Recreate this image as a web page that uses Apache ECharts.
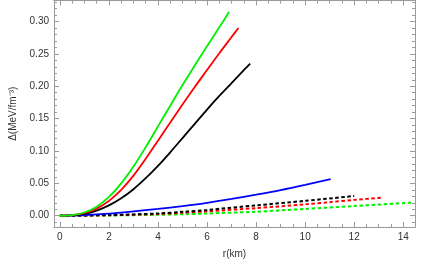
<!DOCTYPE html>
<html><head><meta charset="utf-8">
<script src="https://cdn.jsdelivr.net/npm/echarts@6/dist/echarts.min.js"></script>
<style>html,body{margin:0;padding:0;background:#fff}#c{width:421px;height:264px}</style>
</head><body><div id="c"></div>
<script>
// ---- data ----
const xTicks = [0, 2, 4, 6, 8, 10, 12, 14];
const yTicks = [0.00, 0.05, 0.10, 0.15, 0.20, 0.25, 0.30];

const rGreen = [0, 0.5, 1, 1.5, 2, 2.5, 3, 3.5, 4, 4.5, 5, 5.5, 6, 6.5, 6.9];
const vGreen = [0, 0.001, 0.005, 0.014, 0.029, 0.050, 0.076, 0.106, 0.138, 0.170, 0.202, 0.232, 0.262, 0.291, 0.315];

const rRed = [0, 0.5, 1, 1.5, 2, 2.5, 3, 3.5, 4, 4.5, 5, 5.5, 6, 6.5, 7, 7.28];
const vRed = [0, 0.001, 0.004, 0.011, 0.023, 0.040, 0.062, 0.088, 0.116, 0.144, 0.172, 0.199, 0.225, 0.251, 0.276, 0.290];

const rBlack = [0, 0.5, 1, 1.5, 2, 2.5, 3, 3.5, 4, 4.5, 5, 5.5, 6, 6.5, 7, 7.5, 7.76];
const vBlack = [0, 0.001, 0.003, 0.008, 0.016, 0.027, 0.041, 0.058, 0.077, 0.098, 0.120, 0.142, 0.164, 0.185, 0.205, 0.225, 0.235];

const rBlue = [0, 1, 2, 3, 4, 5, 6, 7, 8, 9, 10, 11.04];
const vBlue = [0, 0.0010, 0.0033, 0.0067, 0.0105, 0.0150, 0.0200, 0.0260, 0.0325, 0.0395, 0.0475, 0.0565];

const rBlackD = [0, 2, 4, 5, 6, 8, 10, 12];
const vBlackD = [0, 0.0010, 0.0035, 0.0060, 0.0090, 0.0160, 0.0230, 0.0305];

const rRedD = [0, 2, 4, 5, 6, 8, 10, 11, 12, 13.13];
const vRedD = [0, 0.0008, 0.0027, 0.0047, 0.0068, 0.0118, 0.0175, 0.0210, 0.0245, 0.0280];

const rGreenD = [0, 2, 4, 5, 6, 8, 10, 12, 14.36];
const vGreenD = [0, 0.0004, 0.0015, 0.0022, 0.0035, 0.0062, 0.0105, 0.0150, 0.0203];

// ---- build ----
const zip = (a, b) => a.map((x, i) => [x, b[i]]);
const minorX = [];
for (let i = 0; i <= 29; i++) { const v = i * 0.5; if (v % 2 !== 0) minorX.push(v); }
const minorY = [];
for (let i = -1; i <= 33; i++) { const v = +(i * 0.01).toFixed(2); if (Math.round(v * 100) % 5 !== 0) minorY.push(v); }

const XMIN = -0.24, XMAX = 14.48, YMIN = -0.0174, YMAX = 0.3325;
const frame = '#9a9a9a';
const font = 'Liberation Sans, Arial, sans-serif';

function xAx(pos, showLabel, ticks, len, extra) {
  return Object.assign({
    type: 'value', position: pos, min: XMIN, max: XMAX,
    axisLine: { show: true, onZero: false, lineStyle: { color: frame, width: 1 } },
    axisTick: { show: true, inside: true, length: len, customValues: ticks, lineStyle: { color: frame } },
    axisLabel: { show: showLabel, customValues: ticks, color: '#333', fontSize: 10, fontFamily: font, margin: 5 },
    splitLine: { show: false }
  }, extra || {});
}
function yAx(pos, showLabel, ticks, len, extra) {
  return Object.assign({
    type: 'value', position: pos, min: YMIN, max: YMAX,
    axisLine: { show: true, onZero: false, lineStyle: { color: frame, width: 1 } },
    axisTick: { show: true, inside: true, length: len, customValues: ticks, lineStyle: { color: frame } },
    axisLabel: { show: showLabel, customValues: ticks, color: '#333', fontSize: 10, fontFamily: font, margin: 5,
      formatter: v => v.toFixed(2) },
    splitLine: { show: false }
  }, extra || {});
}

function solid(r, v, color) {
  return { type: 'line', data: zip(r, v), xAxisIndex: 0, yAxisIndex: 0, showSymbol: false,
    smooth: 0.3,
    lineStyle: { color: color, width: 1.8 }, itemStyle: { color: color }, z: 3 };
}
function dashed(r, v, color) {
  return { type: 'line', data: zip(r, v), xAxisIndex: 0, yAxisIndex: 0, showSymbol: false,
    smooth: 0.3,
    lineStyle: { color: color, width: 2, type: [3.5, 2.5] }, itemStyle: { color: color }, z: 2 };
}

const chart = echarts.init(document.getElementById('c'), null, { renderer: 'canvas' });
chart.setOption({
  animation: false,
  backgroundColor: '#fff',
  grid: { left: 47, right: 6, top: 0.5, bottom: 33.3, containLabel: false },
  xAxis: [
    xAx('bottom', true, xTicks, 5, { name: 'r(km)', nameLocation: 'middle', nameGap: 22,
      nameTextStyle: { color: '#333', fontSize: 10, fontFamily: font } }),
    xAx('bottom', false, minorX, 3),
    xAx('top', false, xTicks, 5),
    xAx('top', false, minorX, 3)
  ],
  yAxis: [
    yAx('left', true, yTicks, 5, { name: 'Δ(MeV/fm⁻³)', nameLocation: 'middle', nameGap: 36, nameRotate: 90,
      nameTextStyle: { color: '#333', fontSize: 10, fontFamily: font } }),
    yAx('left', false, minorY, 3),
    yAx('right', false, yTicks, 5),
    yAx('right', false, minorY, 3)
  ],
  series: [
    dashed(rGreenD, vGreenD, '#00f000'),
    dashed(rRedD, vRedD, '#ff0000'),
    dashed(rBlackD, vBlackD, '#000000'),
    solid(rBlue, vBlue, '#0000ff'),
    solid(rBlack, vBlack, '#000000'),
    solid(rRed, vRed, '#ff0000'),
    solid(rGreen, vGreen, '#00f000')
  ]
});
</script>
</body></html>
